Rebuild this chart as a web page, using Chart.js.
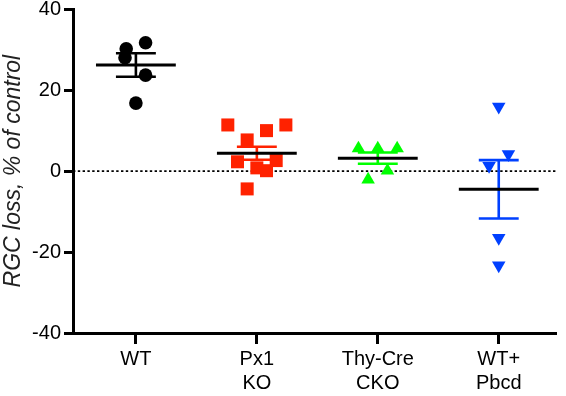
<!DOCTYPE html>
<html>
<head>
<meta charset="utf-8">
<script src="https://cdn.jsdelivr.net/npm/chart.js@4.4.1/dist/chart.umd.min.js"></script>
<style>
  html, body { margin: 0; padding: 0; background: #fff; overflow: hidden; }
  canvas { display: block; }
</style>
</head>
<body>
<canvas id="chart" width="566" height="396"></canvas>
<script>
// categories and tick labels
const groups = ["WT", "Px1 KO", "Thy-Cre CKO", "WT+ Pbcd"];
const tickLabels = [["WT"], ["Px1", "KO"], ["Thy-Cre", "CKO"], ["WT+", "Pbcd"]];
const yTicks = [-40, -20, 0, 20, 40];

// individual values (% RGC loss) and horizontal scatter offsets
const wtValues = [31.7, 30.2, 28.0, 23.7, 16.8];
const wtJitter = [0.08, -0.08, -0.09, 0.08, 0];
const px1Values = [11.4, 10.0, 11.4, 7.7, 2.3, 2.6, 0.8, 0.1, -4.4];
const px1Jitter = [-0.24, 0.08, 0.24, -0.08, -0.16, 0.16, 0, 0.08, -0.08];
const thyValues = [5.6, 5.6, 5.6, 0.1, -2.1];
const thyJitter = [-0.16, 0, 0.16, 0.08, -0.08];
const pbcdValues = [15.9, 4.2, 1.3, -16.5, -23.3];
const pbcdJitter = [0, 0.08, -0.08, 0, 0];

// group mean and SEM
const means = [26.2, 4.4, 3.2, -4.5];
const sems = [2.9, 1.6, 1.4, 7.2];

const colors = ["#000000", "#ff2200", "#00ff00", "#0040ff"];
const values = [wtValues, px1Values, thyValues, pbcdValues];
const jitters = [wtJitter, px1Jitter, thyJitter, pbcdJitter];
const shapes = [
  { pointStyle: "circle", radius: 6.8, rotation: 0 },
  { pointStyle: "rect", radius: 9.2, rotation: 0 },
  { pointStyle: "triangle", radius: 7.8, rotation: 0 },
  { pointStyle: "triangle", radius: 7.8, rotation: 180 },
];

const X_MIN = -0.52, X_MAX = 3.48;
const MEAN_HALF = 0.33, CAP_HALF = 0.165;

const datasets = [];

// mean lines (on top)
means.forEach((m, i) => {
  datasets.push({
    type: "line",
    label: groups[i] + " mean",
    data: [{ x: i - MEAN_HALF, y: m }, { x: i + MEAN_HALF, y: m }],
    borderColor: "#000",
    borderWidth: 3,
    pointRadius: 0,
    order: 1,
    clip: false,
  });
});

// SEM bars
means.forEach((m, i) => {
  const hi = m + sems[i], lo = m - sems[i];
  datasets.push({
    type: "line",
    label: groups[i] + " sem",
    data: [
      { x: i - CAP_HALF, y: hi }, { x: i + CAP_HALF, y: hi }, { x: i, y: null },
      { x: i, y: hi }, { x: i, y: lo }, { x: i + 0.01, y: null },
      { x: i - CAP_HALF, y: lo }, { x: i + CAP_HALF, y: lo },
    ],
    borderColor: colors[i],
    borderWidth: 2.6,
    pointRadius: 0,
    spanGaps: false,
    order: 2,
    clip: false,
  });
});

// individual points
values.forEach((vals, i) => {
  datasets.push({
    type: "scatter",
    label: groups[i],
    data: vals.map((v, k) => ({ x: i + jitters[i][k], y: v })),
    backgroundColor: colors[i],
    borderColor: colors[i],
    borderWidth: 0,
    pointStyle: shapes[i].pointStyle,
    pointRadius: shapes[i].radius,
    pointRotation: shapes[i].rotation,
    order: 3,
    clip: false,
  });
});

// dotted zero line
datasets.push({
  type: "line",
  label: "zero",
  data: [{ x: X_MIN, y: 0 }, { x: X_MAX, y: 0 }],
  borderColor: "#000",
  borderWidth: 1.6,
  borderDash: [2.4, 2.4],
  pointRadius: 0,
  order: 4,
});

const font = { family: "'Liberation Sans', Arial, sans-serif", size: 20 };

new Chart(document.getElementById("chart"), {
  type: "scatter",
  data: { datasets },
  options: {
    responsive: false,
    animation: false,
    layout: { padding: { top: 8, right: 1, left: 0, bottom: 0 } },
    plugins: { legend: { display: false }, tooltip: { enabled: false } },
    scales: {
      x: {
        type: "linear",
        min: X_MIN,
        max: X_MAX,
        afterBuildTicks: (scale) => {
          scale.ticks = groups.map((g, i) => ({ value: i }));
          scale.min = X_MIN;
          scale.max = X_MAX;
        },
        afterFit: (scale) => {
          scale.height = 63;
          scale.paddingLeft = 0;
          scale.paddingRight = 0;
        },
        ticks: {
          color: "#000",
          font,
          padding: 3,
          maxRotation: 0,
          autoSkip: false,
          callback: (v) => tickLabels[v],
        },
        grid: {
          drawOnChartArea: false,
          color: "#000",
          tickLength: 11,
          tickWidth: 3,
        },
        border: { color: "#000", width: 3 },
      },
      y: {
        min: -40,
        max: 40,
        afterBuildTicks: (scale) => {
          scale.ticks = yTicks.map((v) => ({ value: v }));
          scale.min = -40;
          scale.max = 40;
        },
        afterFit: (scale) => {
          scale.width = 73;
          scale.paddingTop = 0;
          scale.paddingBottom = 0;
        },
        ticks: { color: "#000", font, padding: 3 },
        grid: {
          drawOnChartArea: false,
          color: "#000",
          tickLength: 9,
          tickWidth: 3,
        },
        border: { color: "#000", width: 3 },
        title: {
          display: true,
          text: "RGC loss, % of control",
          color: "#222",
          font: { family: font.family, size: 23, style: "italic" },
          padding: 0,
        },
      },
    },
  },
});
</script>
</body>
</html>
